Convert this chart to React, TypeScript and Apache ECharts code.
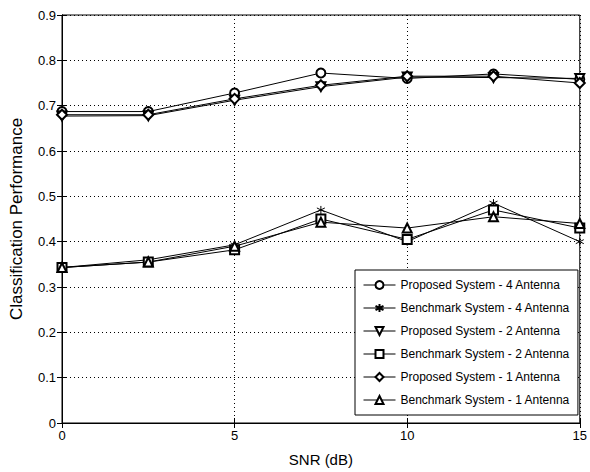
import React, { useEffect, useRef } from "react";
import * as echarts from "echarts";

const snr = [0, 2.5, 5, 7.5, 10, 12.5, 15];
const seriesNames = [
  "Proposed System - 4 Antenna",
  "Benchmark System - 4 Antenna",
  "Proposed System - 2 Antenna",
  "Benchmark System - 2 Antenna",
  "Proposed System - 1 Antenna",
  "Benchmark System - 1 Antenna",
];
const proposed4 = [0.687, 0.687, 0.728, 0.772, 0.76, 0.77, 0.758];
const benchmark4 = [0.343, 0.36, 0.393, 0.47, 0.4, 0.485, 0.4];
const proposed2 = [0.677, 0.678, 0.712, 0.742, 0.763, 0.762, 0.76];
const benchmark2 = [0.343, 0.355, 0.382, 0.45, 0.405, 0.47, 0.43];
const proposed1 = [0.68, 0.68, 0.715, 0.745, 0.765, 0.765, 0.75];
const benchmark1 = [0.343, 0.355, 0.39, 0.443, 0.43, 0.455, 0.44];
const yTicks = [0, 0.1, 0.2, 0.3, 0.4, 0.5, 0.6, 0.7, 0.8, 0.9];

const star = "path://M0,-5L0,5M-4.33,-2.5L4.33,2.5M-4.33,2.5L4.33,-2.5";

export default function App() {
  const ref = useRef<HTMLDivElement>(null);
  useEffect(() => {
    document.body.style.margin = "0";
    const chart = echarts.init(ref.current!, undefined, { renderer: "svg" });
    const font = "Liberation Sans";
    const all = [proposed4, benchmark4, proposed2, benchmark2, proposed1, benchmark1];
    const symbols = ["emptyCircle", star, "emptyTriangle", "emptyRect", "emptyDiamond", "emptyTriangle"];
    const rotates = [0, 0, 180, 0, 0, 0];
    const sizes = [9, 8, 9, 9, 10, 9];
    const series = all.map((vals, i) => ({
      name: seriesNames[i],
      type: "line",
      data: vals.map((v, j) => [snr[j], v]),
      symbol: symbols[i],
      symbolSize: sizes[i],
      symbolRotate: rotates[i],
      showAllSymbol: true,
      lineStyle: { color: "#000", width: 1 },
      itemStyle: { color: "#000", borderColor: "#000", borderWidth: 1 },
      emphasis: { disabled: true },
    }));
    const gridLine = { show: true, lineStyle: { color: "#000", width: 1, type: [1, 3] as any } };
    chart.setOption({
      animation: false,
      backgroundColor: "#fff",
      textStyle: { fontFamily: font },
      grid: { left: 62, right: 7, top: 15, bottom: 47, show: true, borderColor: "#000", borderWidth: 1, backgroundColor: "transparent" },
      xAxis: [
        {
          type: "value", min: 0, max: 15, interval: 5,
          name: "SNR (dB)", nameLocation: "middle", nameGap: 29,
          nameTextStyle: { color: "#000", fontSize: 15, fontFamily: font },
          axisLine: { show: true, lineStyle: { color: "#000" } },
          axisTick: { show: true, inside: true, length: 5, lineStyle: { color: "#000" } },
          axisLabel: { color: "#000", fontSize: 13, fontFamily: font, margin: 6 },
          splitLine: gridLine,
        },
        {
          type: "value", min: 0, max: 15, interval: 5, position: "top",
          axisLine: { show: true, lineStyle: { color: "#000" } },
          axisTick: { show: true, inside: true, length: 5, lineStyle: { color: "#000" } },
          axisLabel: { show: false },
          splitLine: { show: false },
        },
      ],
      yAxis: [
        {
          type: "value", min: 0, max: 0.9, interval: 0.1,
          name: "Classification Performance", nameLocation: "middle", nameGap: 37,
          nameTextStyle: { color: "#000", fontSize: 17, fontFamily: font },
          axisLine: { show: true, lineStyle: { color: "#000" } },
          axisTick: { show: true, inside: true, length: 5, lineStyle: { color: "#000" } },
          axisLabel: {
            color: "#000", fontSize: 13, fontFamily: font, margin: 6,
            formatter: (v: number) => {
              const t = yTicks.find((y) => Math.abs(y - v) < 1e-6);
              return t === undefined ? "" : String(t);
            },
          },
          splitLine: gridLine,
        },
        {
          type: "value", min: 0, max: 0.9, interval: 0.1, position: "right",
          axisLine: { show: true, lineStyle: { color: "#000" } },
          axisTick: { show: true, inside: true, length: 5, lineStyle: { color: "#000" } },
          axisLabel: { show: false },
          splitLine: { show: false },
        },
      ],
      legend: {
        data: seriesNames,
        orient: "vertical",
        left: 355,
        top: 270,
        padding: [8, 8, 8, 8],
        itemWidth: 32,
        itemHeight: 10,
        itemGap: 9,
        borderColor: "#000",
        borderWidth: 1,
        backgroundColor: "#fff",
        lineStyle: { width: 1 },
        textStyle: { color: "#000", fontSize: 12, fontFamily: font, lineHeight: 14 },
      },
      series,
    });
    return () => chart.dispose();
  }, []);
  return <div ref={ref} style={{ width: 590, height: 472 }} />;
}
